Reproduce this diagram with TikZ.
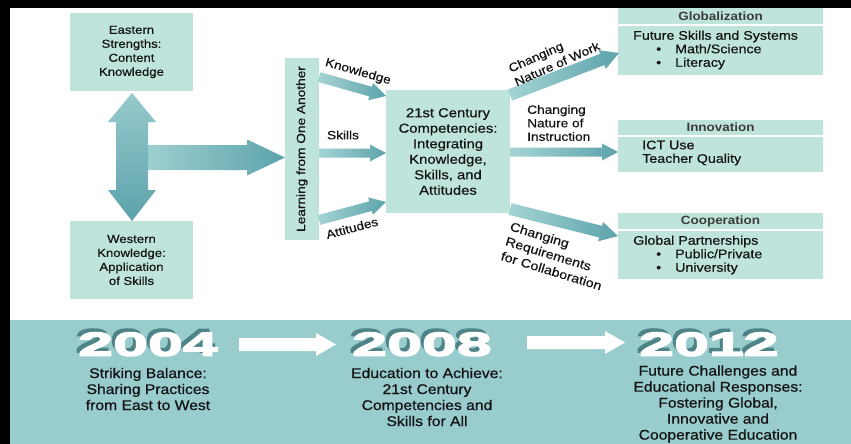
\documentclass[tikz,border=0pt]{standalone}
\usepackage{fontspec}
\setmainfont{Liberation Sans}
\newfontfamily\mainf[FakeStretch=1.14,FakeBold=0.5]{Liberation Sans}
\newfontfamily\hdrf[FakeStretch=1.12,UprightFont={* Bold}]{Liberation Sans}
\newfontfamily\yearf[FakeStretch=1.9,UprightFont={* Bold},FakeBold=5]{Liberation Sans}
\newfontfamily\botf[FakeStretch=1.12,FakeBold=0.8]{Liberation Sans}
\usetikzlibrary{calc}

\definecolor{boxc}{RGB}{191,228,220}
\definecolor{bandc}{RGB}{152,204,205}
\definecolor{arrlight}{RGB}{165,212,212}
\definecolor{arrdark}{RGB}{92,163,171}
\definecolor{txtc}{RGB}{20,20,20}
\definecolor{hdrc}{RGB}{60,60,60}
\definecolor{shadowc}{RGB}{78,132,135}

\newcommand\fatarrow[6][]{%
  \coordinate (fah) at ($(#3)!#6!(#2)$);
  \path[#1] ($(#2)!#4!90:(#3)$) -- ($(fah)!#4!90:(#3)$) -- ($(fah)!#5!90:(#3)$) -- (#3)
    -- ($(fah)!#5!-90:(#3)$) -- ($(fah)!#4!-90:(#3)$) -- ($(#2)!#4!-90:(#3)$) -- cycle;}
\newcommand\yeartext[1]{\rlap{\hspace*{-3pt}\raisebox{3.5pt}{\color{shadowc}#1}}#1}

\tikzset{
  lbox/.style={fill=boxc, inner sep=0pt, align=center, text=txtc,
    font=\mainf\fontsize{11.5}{14}\selectfont},
  cbox/.style={fill=boxc, inner sep=0pt, align=center, text=txtc,
    font=\mainf\fontsize{13}{15.5}\selectfont},
  hbox/.style={fill=boxc, inner sep=0pt, text=hdrc,
    font=\hdrf\fontsize{12}{14}\selectfont},
  bbox/.style={fill=boxc, inner sep=0pt},
  btext/.style={inner sep=0pt, align=left, text=txtc,
    font=\mainf\fontsize{12.5}{13.5}\selectfont},
  lbl/.style={inner sep=0pt, text=txtc,
    font=\mainf\fontsize{12}{13.5}\selectfont},
  yr/.style={inner sep=0pt, text=white, font=\yearf\fontsize{33}{33}\selectfont},
  btxt/.style={inner sep=0pt, align=center, text=txtc,
    font=\botf\fontsize{14}{16}\selectfont},
  thinarr/.style={shade, left color=arrlight, right color=arrdark},
  whitearr/.style={fill=white},
}

\begin{document}
\begin{tikzpicture}[x=1pt,y=-1pt]
\useasboundingbox (0,0) rectangle (851,444);
\fill[white] (0,0) rectangle (851,444);
\fill[black] (0,0) rectangle (851,8);
\fill[black] (0,0) rectangle (10,444);
\fill[bandc] (10,320) rectangle (851,444);

% left boxes
\node[lbox, minimum width=123pt, minimum height=78pt] (east) at (131.5,52)
  {Eastern\\Strengths:\\Content\\Knowledge};
\node[lbox, minimum width=123pt, minimum height=78pt] (west) at (131.5,260)
  {Western\\Knowledge:\\Application\\of Skills};

% big arrows
\coordinate (bigs) at (132,157.5);
\coordinate (bige) at (285,157.5);
\fatarrow[shade, left color=arrlight, middle color=arrlight, right color=arrdark]{bigs}{bige}{12.5pt}{18pt}{38pt}
\shade[top color=arrlight!80!arrdark, middle color=arrlight, bottom color=arrdark]
  (116,122) -- (108,122) -- (132,93) -- (156,122) -- (148,122) -- (148,190)
  -- (156,190) -- (132,221) -- (108,190) -- (116,190) -- cycle;

% learning box
\node[lbox, font=\mainf\fontsize{12}{14}\selectfont, rotate=90, minimum width=182pt, minimum height=34pt] (learn) at (302,149)
  {Learning from One Another};

% core box
\node[cbox, minimum width=124pt, minimum height=123pt] (core) at (448,151.5)
  {21st Century\\Competencies:\\Integrating\\Knowledge,\\Skills, and\\Attitudes};

% thin arrows left
\coordinate (k0) at (319,77);  \coordinate (k1) at (386,96);
\coordinate (s0) at (319,153); \coordinate (s1) at (386,153);
\coordinate (a0) at (319,220); \coordinate (a1) at (386,202);
\fatarrow[thinarr]{k0}{k1}{5pt}{9pt}{16pt}
\fatarrow[thinarr]{s0}{s1}{4.5pt}{8.5pt}{16pt}
\fatarrow[thinarr]{a0}{a1}{5pt}{9pt}{16pt}

% right boxes
\node[hbox, minimum width=205pt, minimum height=16pt] (gh) at (720.5,16) {Globalization};
\node[bbox, minimum width=205pt, minimum height=49pt] (gb) at (720.5,50.5) {};
\node[hbox, minimum width=205pt, minimum height=15pt] (ih) at (720.5,127.5) {Innovation};
\node[bbox, minimum width=205pt, minimum height=35pt] (ib) at (720.5,154.5) {};
\node[hbox, minimum width=205pt, minimum height=16pt] (ch) at (720.5,221) {Cooperation};
\node[bbox, minimum width=205pt, minimum height=48pt] (cb) at (720.5,255) {};

\node[btext, anchor=west] (gbt) at (633,50)
  {Future Skills and Systems\\\hspace*{23pt}•\hspace*{14pt}Math/Science\\\hspace*{23pt}•\hspace*{14pt}Literacy};
\node[btext, anchor=west] (ibt) at (642,153) {ICT Use\\Teacher Quality};
\node[btext, anchor=west] (cbt) at (633,255)
  {Global Partnerships\\\hspace*{23pt}•\hspace*{14pt}Public/Private\\\hspace*{23pt}•\hspace*{14pt}University};

% thin arrows right
\coordinate (w0) at (510,95);  \coordinate (w1) at (619,53);
\coordinate (i0) at (510,152); \coordinate (i1) at (618,152);
\coordinate (c0) at (510,209); \coordinate (c1) at (618,236);
\fatarrow[thinarr]{w0}{w1}{6pt}{10pt}{18pt}
\fatarrow[thinarr]{i0}{i1}{4.5pt}{8.5pt}{16pt}
\fatarrow[thinarr]{c0}{c1}{6pt}{10pt}{18pt}

% labels
\node[lbl, rotate=-16] (lk) at (358,72) {Knowledge};
\node[lbl] (ls) at (343,135) {Skills};
\node[lbl, rotate=15] (la) at (352,228) {Attitudes};
\node[lbl, rotate=24, align=left, font=\mainf\fontsize{12}{15}\selectfont] (lw) at (554,57) {Changing\\Nature of Work};
\node[lbl, align=left, anchor=west] (li) at (527,123) {Changing\\Nature of\\Instruction};
\node[lbl, rotate=-17, align=left, font=\mainf\fontsize{12.5}{15.5}\selectfont] (lc) at (556,256) {Changing\\Requirements\\for Collaboration};

% years
\node[yr] (y04) at (148,342.5) {\yeartext{2004}};
\node[yr] (y08) at (422,342.5) {\yeartext{2008}};
\node[yr] (y12) at (709,342.5) {\yeartext{2012}};

\coordinate (b1s) at (239,344.5); \coordinate (b1e) at (336,344.5);
\coordinate (b2s) at (527,342.5); \coordinate (b2e) at (625,342.5);
\fatarrow[whitearr]{b1s}{b1e}{6.5pt}{11.5pt}{20pt}
\fatarrow[whitearr]{b2s}{b2e}{6.5pt}{11.5pt}{20pt}

\node[btxt] (t04) at (148,389) {Striking Balance:\\Sharing Practices\\from East to West};
\node[btxt] (t08) at (427,397) {Education to Achieve:\\21st Century\\Competencies and\\Skills for All};
\node[btxt] (t12) at (718,404) {Future Challenges and\\Educational Responses:\\Fostering Global,\\Innovative and\\Cooperative Education};
\end{tikzpicture}
\end{document}
